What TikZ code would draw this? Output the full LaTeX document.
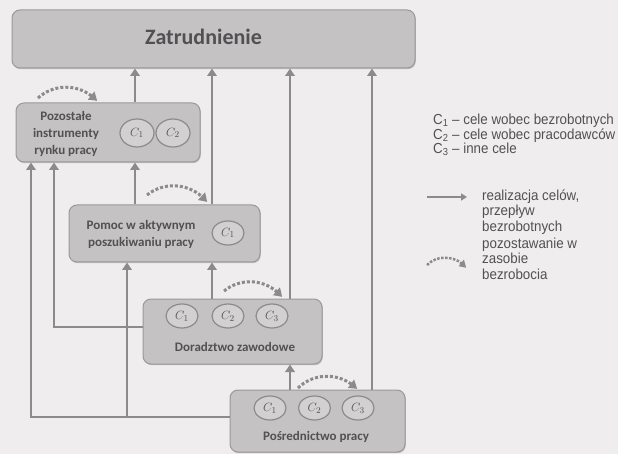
\documentclass[tikz,border=0pt]{standalone}
\usepackage{fontspec}
\setmainfont{Carlito}
\newfontfamily\legendfont[FakeStretch=0.92]{Liberation Sans}
\usetikzlibrary{arrows.meta,shapes.geometric,bending,shadows}
\definecolor{bgc}{HTML}{EFEDEE}
\definecolor{boxfill}{HTML}{C4C2C3}
\definecolor{boxdraw}{HTML}{9A9899}
\definecolor{linec}{HTML}{8C8A8B}
\definecolor{txt}{HTML}{525052}
\definecolor{ellfill}{HTML}{D2D0D1}
\begin{document}
\begin{tikzpicture}[x=1pt,y=-1pt,
  box/.style={draw=boxdraw, line width=1pt, fill=boxfill, rounded corners=8pt, inner sep=0pt,
    drop shadow={shadow xshift=0.8pt, shadow yshift=-1.2pt, opacity=0.35, fill=black!60}},
  boxtext/.style={font=\fontsize{13}{17}\selectfont\bfseries, text=txt, align=center, inner sep=0pt},
  goal/.style={ellipse, draw=linec, line width=1.2pt, fill=ellfill, minimum width=32pt, minimum height=24pt, inner sep=0pt, font=\fontsize{13}{13}\selectfont, text=txt},
  arr/.style={draw=linec, line width=2.5pt, -{Triangle[width=9.5pt,length=7.5pt]}},
  stay/.style={draw=linec, line width=3pt, dash pattern=on 3pt off 2pt, -{Triangle[width=10pt,length=8pt,bend]}},
  legend/.style={font=\legendfont\fontsize{14.5}{15.4}\selectfont, text=txt, align=left, anchor=west, inner sep=0pt}
]
\fill[bgc] (0,0) rectangle (618,454);
\useasboundingbox (0,0) rectangle (618,454);

% boxes
\node[box, minimum width=403pt, minimum height=58pt] (zat) at (213.5,39) {};
\node[font=\fontsize{22}{22}\selectfont\bfseries, text=txt] (zatt) at (203.5,37) {Zatrudnienie};

\node[box, minimum width=184pt, minimum height=59pt] (poz) at (108,132.5) {};
\node[boxtext] (pozt) at (66,134) {Pozostałe\\instrumenty\\rynku pracy};
\node[goal, minimum width=34pt, minimum height=28pt] (pozc1) at (137,133) {$C_1$};
\node[goal, minimum width=34pt, minimum height=28pt] (pozc2) at (173,133) {$C_2$};

\node[box, minimum width=191pt, minimum height=57pt] (pom) at (164.5,233.5) {};
\node[boxtext] (pomt) at (141,234) {Pomoc w aktywnym\\poszukiwaniu pracy};
\node[goal] (pomc1) at (228,233) {$C_1$};

\node[box, minimum width=179pt, minimum height=65pt] (dor) at (232.5,331.5) {};
\node[goal] (dorc1) at (182,316) {$C_1$};
\node[goal] (dorc2) at (228,316) {$C_2$};
\node[goal] (dorc3) at (272,316) {$C_3$};
\node[boxtext] (dort) at (235,347) {Doradztwo zawodowe};

\node[box, minimum width=175pt, minimum height=62pt] (pos) at (317.5,421) {};
\node[goal] (posc1) at (270,408) {$C_1$};
\node[goal] (posc2) at (314.5,408) {$C_2$};
\node[goal] (posc3) at (358,408) {$C_3$};
\node[boxtext] (post) at (316,437) {Pośrednictwo pracy};

% connector columns
\coordinate (xa) at (31,0);
\coordinate (xb) at (54,0);
\coordinate (xd) at (127,0);
\coordinate (xc) at (135,0);
\coordinate (xe) at (212,0);
\coordinate (xf) at (290,0);
\coordinate (xg) at (372,0);
\coordinate (dorw) at ([yshift=4.5pt]dor.west);
\coordinate (posw) at ([yshift=4pt]pos.west);

\draw[arr] (poz.north -| xc) -- (zat.south -| xc);
\draw[arr] (pom.north -| xc) -- (poz.south -| xc);
\draw[arr] (pom.north -| xe) -- (zat.south -| xe);
\draw[arr] (dor.north -| xe) -- (pom.south -| xe);
\draw[arr] (dor.north -| xf) -- (zat.south -| xf);
\draw[arr] (pos.north -| xf) -- (dor.south -| xf);
\draw[arr] (pos.north -| xg) -- (zat.south -| xg);
\draw[arr] (dorw) -| (poz.south -| xb);
\draw[arr] (posw) -| (poz.south -| xa);
\draw[arr] (posw -| xd) -- (pom.south -| xd);

% staying in unemployment
\coordinate (s1) at (38,98);   \coordinate (e1) at (97,101);
\coordinate (s2) at (147,195); \coordinate (e2) at (207,202);
\coordinate (s3) at (224,291); \coordinate (e3) at (282,297);
\coordinate (s4) at (298,388); \coordinate (e4) at (357,389);
\draw[stay] (s1) to[bend left=45] (e1);
\draw[stay] (s2) to[bend left=45] (e2);
\draw[stay] (s3) to[bend left=45] (e3);
\draw[stay] (s4) to[bend left=45] (e4);

% legend
\node[legend, font=\legendfont\fontsize{14.5}{13}\selectfont] (leg1) at (433,135) {C\textsubscript{1} – cele wobec bezrobotnych\\C\textsubscript{2} – cele wobec pracodawców\\C\textsubscript{3} – inne cele};
\coordinate (la1) at (427,197); \coordinate (la2) at (467,197);
\draw[arr, line width=2pt, -{Triangle[width=7pt,length=6pt]}] (la1) -- (la2);
\node[legend] (leg2) at (482,212) {realizacja celów,\\przepływ\\bezrobotnych};
\coordinate (ls1) at (427,265); \coordinate (ls2) at (466,268);
\draw[stay, line width=2.5pt, dash pattern=on 2.5pt off 1.5pt, -{Triangle[width=8pt,length=7pt,bend]}] (ls1) to[bend left=50] (ls2);
\node[legend] (leg3) at (482,258.5) {pozostawanie w\\zasobie\\bezrobocia};
\end{tikzpicture}
\end{document}
